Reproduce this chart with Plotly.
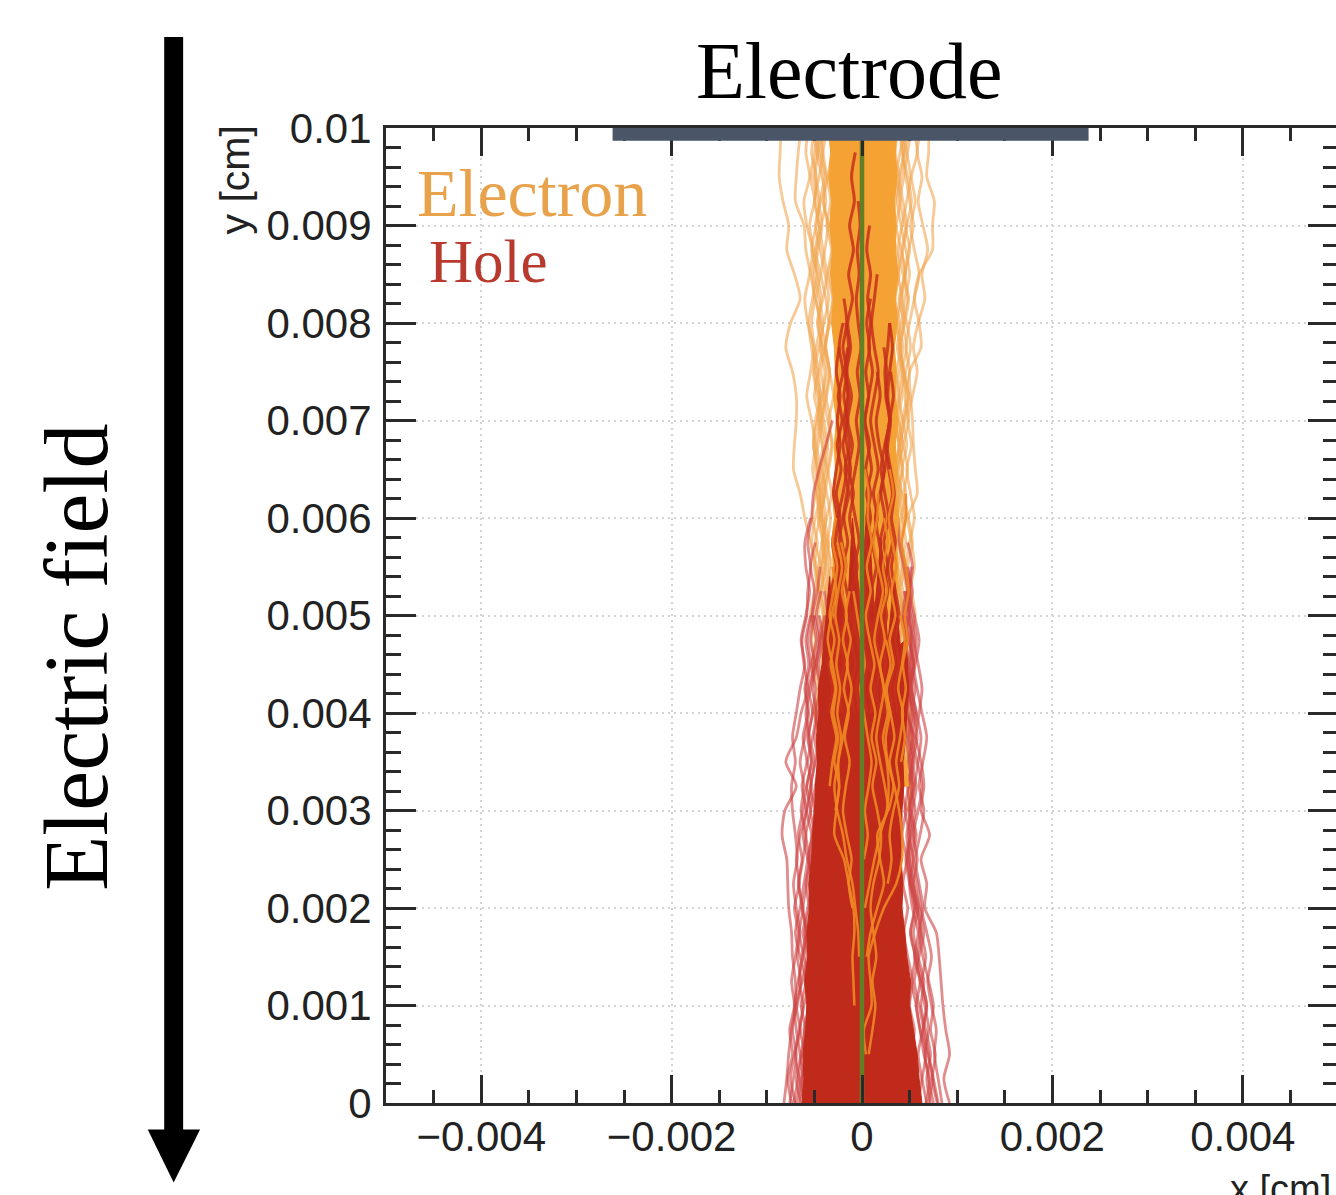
import plotly.graph_objects as go

# ---- axis text ----
x_tick_vals = [-0.004, -0.002, 0, 0.002, 0.004]
x_tick_text = ["\u22120.004", "\u22120.002", "0", "0.002", "0.004"]
y_tick_vals = [0, 0.001, 0.002, 0.003, 0.004, 0.005, 0.006, 0.007, 0.008, 0.009, 0.01]
y_tick_text = ["0", "0.001", "0.002", "0.003", "0.004", "0.005", "0.006", "0.007", "0.008", "0.009", "0.01"]

# ---- electrode extent (cm) ----
electrode_x = [-0.00262, 0.00238]
electrode_y = [0.00987, 0.01]
beam_x = [0, 0]
beam_y = [0, 0.01]

UNIT = 1e-4      # path values are in units of 1e-4 cm
STEP = 0.00025   # path sampling in y

# ---- electron paths: first value at y=0.01, going down ----
e01 = [-8.5,-8.6,-8.7,-8.3,-7.7,-7.9,-7.1,-6.5,-7.5,-8.0,-7.3,-6.9,-6.9,-7.1,-7.2,-6.5,-6.0,-5.4,-4.8,-4.5]
e02 = [-6.4,-6.7,-6.9,-7.0,-6.1,-5.9,-5.4,-5.0,-5.3,-5.0,-4.6,-4.4,-4.9,-5.1,-4.7,-4.5,-4.2,-3.9,-4.3,-4.0]
e03 = [-5.6,-5.9,-5.5,-6.1,-5.8,-5.2,-5.5,-6.0,-5.7,-5.1,-5.4,-5.8,-5.3,-4.9,-5.2,-4.8,-4.5,-4.9,-4.3,-4.6,-4.1,-4.4]
e04 = [-4.9,-5.3,-4.8,-5.0,-5.5,-5.1,-4.7,-5.2,-5.6,-5.3,-4.8,-4.4,-4.7,-5.1,-4.6,-4.2,-4.6,-4.1,-3.8,-4.3,-4.6,-4.0,-3.6]
e05 = [-4.2,-4.6,-4.9,-4.4,-4.8,-5.3,-4.7,-4.3,-4.7,-4.2,-4.6,-5.0,-4.4,-4.1,-4.5,-4.9,-5.2,-4.7,-5.0,-4.6,-5.0,-5.3,-4.9,-4.4]
e06 = [-5.2,-4.8,-5.1,-4.6,-4.2,-4.6,-5.0,-4.5,-4.1,-4.4,-3.9,-4.2,-4.6,-4.2,-3.7,-4.1,-3.8,-4.2,-4.6,-5.0,-5.4,-4.9,-5.2,-4.7,-5.0,-4.4]
e07 = [-3.9,-4.3,-3.8,-4.1,-3.6,-3.9,-4.3,-3.8,-3.5,-3.9,-3.4,-3.8,-3.3,-3.7,-4.1,-3.7,-3.3,-3.6,-3.2,-3.6,-4.0,-3.6,-4.1,-3.7,-4.2,-3.8,-3.4,-3.8]
e08 = [-4.5,-4.1,-3.7,-3.3,-3.7,-3.2,-3.6,-3.1,-3.5,-3.9,-4.3,-3.9,-4.4,-4.8,-4.3,-3.9,-4.4,-4.0,-3.6,-3.2,-3.7,-3.3,-2.9,-3.4]
e09 = [7.0,7.0,6.8,7.6,7.4,7.4,6.0,5.5,6.0,6.2,5.0,5.1,5.3,5.4,5.6,5.8,4.8,5.2,5.5,5.0,4.7]
e10 = [6.2,5.8,6.3,5.9,6.4,6.9,6.3,6.6,5.9,5.4,5.8,5.3,4.8,5.2,4.7,5.1,5.5,5.0,4.6,5.0,4.5,4.9]
e11 = [5.4,5.8,5.2,5.6,5.1,5.5,6.0,5.5,5.0,4.6,5.0,4.5,4.9,4.4,4.8,4.4,4.9,5.3,4.8,5.2,5.6,5.1,5.5,5.0]
e12 = [4.7,4.3,4.8,5.2,4.7,4.2,4.6,4.2,4.7,5.1,4.6,4.2,3.9,4.3,3.8,4.2,4.6,4.1,4.5,4.0,4.4,4.8,4.4,4.8,5.2,4.8,5.1]
e13 = [4.0,4.4,3.9,4.3,4.7,4.3,3.8,4.2,3.7,4.1,3.6,3.9,3.5,3.9,3.4,3.8,3.4,3.8,3.5,3.9,4.3,3.9,4.3,4.0,4.5,4.1,4.6,5.0,4.7]
e14 = [5.0,4.5,4.1,3.7,4.1,4.6,5.0,4.5,4.1,3.7,4.2,3.8,4.3,4.7,4.2,4.6,4.1,3.7,3.3,3.7,3.3,3.7,4.2,3.8,3.4,3.8]
e15 = [-3.6,-3.2,-3.6,-4.0,-3.5,-3.1,-3.4,-3.0,-3.4,-3.8,-3.4,-3.0,-3.5,-3.1,-3.5,-3.9,-4.3,-3.8,-4.2,-3.8,-3.4,-3.9,-4.4,-4.0,-4.5,-4.1,-4.6]
e16 = [3.8,3.5,3.9,3.5,3.2,3.6,3.9,3.5,3.9,4.3,3.9,3.5,3.8,4.2,3.8,3.3,3.7,3.2,3.6,4.0,4.5,4.1,4.6,5.1,4.7,5.2,4.8,5.2,4.9]
e17 = [-4.3,-4.7,-4.2,-3.8,-4.3,-4.8,-5.2,-4.9,-4.4,-4.8,-5.1,-4.7,-4.2,-4.6,-4.9,-4.4,-4.9,-5.3,-4.9,-4.4,-4.0,-4.5,-4.0,-4.4,-4.8,-4.3]
e18 = [-5.0,-4.5,-4.0,-4.4,-4.9,-4.4,-3.9,-3.5,-4.0,-4.5,-5.0,-4.5,-4.0,-3.6,-3.9,-4.4,-4.0,-3.5,-3.9,-4.3,-3.8,-4.3,-3.9,-3.5,-4.0,-4.5,-4.1,-4.6,-4.2]
e19 = [-3.7,-4.1,-4.5,-5.0,-4.5,-4.9,-4.4,-4.8,-4.3,-3.8,-3.4,-3.7,-4.2,-3.8,-4.3,-4.7,-4.2,-3.7,-3.4,-3.8,-3.4,-3.8,-3.5,-3.9,-3.5,-3.9]
e20 = [-4.6,-5.0,-5.4,-4.9,-4.5,-4.1,-3.7,-4.1,-4.6,-4.1,-3.7,-4.1,-3.6,-3.2,-3.6,-3.2,-3.7,-4.2,-3.9,-3.5,-3.1,-3.5,-3.9,-4.4,-4.9,-4.5]
e21 = [4.3,4.7,5.1,4.7,4.2,3.8,4.3,4.8,4.3,4.7,4.2,4.7,4.2,3.8,4.2,3.7,4.2,4.6,4.2,4.7,4.2,4.6,5.0,4.6,4.9,4.5,4.9]
e22 = [5.2,4.8,4.4,4.0,4.5,5.0,4.5,3.9,4.4,3.9,4.4,4.9,4.5,4.0,3.6,4.1,3.7,4.2,3.8,4.3,3.9,4.4,4.0,4.5,4.9,5.3,5.0,5.4]
e23 = [3.9,4.2,4.6,5.0,5.4,4.9,4.5,4.9,4.5,4.0,4.4,4.0,3.6,3.9,4.3,3.9,4.4,4.0,4.4,4.8,4.4,4.0,3.8,4.2,3.9,4.4,4.8,4.4]
e24 = [4.5,4.0,3.6,4.0,3.6,4.1,4.5,4.0,3.6,4.0,4.4,4.9,4.4,4.0,3.6,3.9,3.5,3.9,4.2,3.8,4.2,4.6,4.1,4.5,4.1,4.6]
electron_paths = [e01,e02,e03,e04,e05,e06,e07,e08,e09,e10,e11,e12,e13,e14,e15,e16,e17,e18,e19,e20,e21,e22,e23,e24]

# dense electron band: edges at y=0.01, 0.00975, ... going down
electron_core_left = [-3.5,-3.3,-3.5,-3.2,-3.4,-3.1,-3.3,-3.0,-3.2,-2.9,-2.8,-3.0,-2.7,-2.9,-2.8,-3.1,-2.9,-3.2,-3.0,-3.3,-3.1,-3.4,-3.2,-3.5,-3.4,-3.6,-3.5,-3.8]
electron_core_right = [3.7,3.5,3.7,3.4,3.6,3.5,3.8,3.5,3.7,3.4,3.6,3.5,3.8,3.5,3.7,3.6,3.9,3.6,3.8,3.7,4.0,3.8,4.1,4.0,4.4,4.2,4.6,4.9]

# orange paths lying over the red band: first value at y=0.0065, going down
os01 = [2.9,3.3,2.8,3.2,3.6,3.1,3.5,2.9,3.3,2.6,2.9,2.5,2.7,3.4,3.9,4.2,4.2,3.6,2.3,1.4,0.7,0.9,1.0,0.2,0.4]
os02 = [-2.4,-2.0,-2.2,-2.6,-2.1,-2.5,-2.8,-2.4,-2.7,-2.3,-2.6,-2.2,-2.5,-2.4,-2.7,-2.9,-1.9,-1.4,-0.9,-0.8,-1.0,-0.9,-0.8]
os03 = [1.2,1.7,1.6,1.2,1.7,2.2,1.7,1.3,1.8,2.3,1.9,1.5,1.9,2.4,2.7,1.6,1.9,2.3,1.6,0.9,0.5]
os04 = [-0.6,-1.1,-1.0,-1.4,-0.9,-1.3,-1.7,-1.2,-1.6,-1.1,-1.5,-2.0,-2.5,-2.9,-2.6,-2.0,-1.6,-1.0,-0.7,-0.4,-0.3]
os05 = [2.1,2.5,2.3,2.7,2.2,2.6,2.0,2.4,1.9,2.3,2.7,2.2,2.6,2.8,2.6,1.9,1.3,0.8,0.3]
os06 = [-3.3,-2.9,-3.0,-2.6,-3.1,-2.7,-3.2,-3.6,-3.1,-2.7,-3.0,-2.5,-2.9,-2.4,-2.8]
os07 = [0.3,0.7,0.6,1.0,0.5,0.9,0.4,0.8,1.3,0.9,1.4,1.0,1.5,1.1,1.6,2.0,1.8,1.2,0.9,1.2,1.5,1.1,1.4,1.1,0.7]
os08 = [3.5,3.9,3.8,4.3,3.9,4.4,4.0,4.5,4.2,3.8,4.3,4.0,3.6,3.9,3.3,2.9,3.1,2.7]
os09 = [-1.5,-1.9,-1.8,-2.2,-1.7,-2.1,-1.6,-2.0,-1.5,-1.9,-1.4,-1.8,-1.3,-1.7,-2.0,-1.6,-1.1,-1.4,-1.0]
os10 = [4.2,4.6,4.6,4.2,4.6,4.9,4.5,4.8,4.3,4.6,4.2,4.5,4.1]
os11 = [-0.9,-0.6,-0.4,-0.1,-0.5,-0.9,-0.5,-0.1,0.3,-0.2,0.2,0.6,1.0,0.7,0.3,0.6,0.2]
os12 = [-2.8,-3.2,-2.7,-3.1,-2.6,-3.0,-3.4,-2.9,-3.3,-2.8,-3.2,-2.7,-3.1,-3.4]
os13 = [1.8,1.4,1.9,1.5,2.0,2.5,2.0,2.5,3.0,2.5,3.0,3.4,2.9,3.3,2.8]
orange_streaks = [os01,os02,os03,os04,os05,os06,os07,os08,os09,os10,os11,os12,os13]
# how many leading levels each of those paths leaves out, so they do not all begin at one height
orange_skip = [0,3,1,5,2,4,0,6,3,1,5,2,7]

# ---- hole paths: first value at y=0, going up ----
h01 = [-8.2,-7.9,-7.7,-7.4,-7.0,-7.0,-7.3,-7.4,-7.7,-7.8,-7.9,-8.4,-8.1,-6.9,-8.0,-6.9,-6.4,-5.7,-6.1,-6.3,-5.8,-5.7,-5.4,-5.7,-5.3,-5.1,-4.5,-3.8,-3.1]
h02 = [9.2,8.6,9.2,8.8,8.5,8.3,8.1,7.8,6.6,6.8,6.2,7.1,6.2,6.5,6.2,5.6,4.7,5.0,5.1,5.2,5.0,4.8,4.4,3.9,3.8]
h03 = [-7.6,-7.2,-6.9,-7.3,-6.8,-6.4,-6.8,-6.5,-6.9,-7.2,-6.8,-7.0,-7.3,-7.4,-7.0,-7.3,-6.9,-6.5,-6.0,-6.4,-5.9,-5.5,-5.9,-6.0,-5.4]
h04 = [-7.0,-7.5,-7.1,-6.6,-6.2,-6.6,-6.2,-5.8,-6.3,-6.6,-6.2,-5.9,-6.4,-6.1,-6.5,-6.0,-5.6,-5.9,-5.4,-5.7,-5.3,-5.0,-5.4,-4.9]
h05 = [-6.6,-6.2,-6.5,-6.9,-7.1,-6.7,-6.3,-5.9,-6.2,-5.8,-5.5,-5.9,-5.4,-5.8,-5.3,-5.6,-5.2,-4.9,-5.3,-4.8,-5.2,-4.7,-4.4]
h06 = [-7.4,-7.8,-7.3,-7.6,-7.1,-7.4,-7.0,-6.7,-7.1,-6.6,-6.9,-6.5,-5.9,-6.3,-5.8,-6.2,-5.7,-6.0,-5.6,-5.9,-5.4]
h07 = [-5.9,-6.3,-5.7,-6.1,-5.6,-5.9,-5.5,-5.1,-5.5,-5.9,-5.4,-5.0,-5.4,-4.9,-4.6,-5.0,-4.6,-4.2,-4.6,-4.1,-4.5]
h08 = [7.9,7.4,7.7,7.2,7.5,7.0,6.4,6.0,6.4,6.0,5.6,6.1,6.5,6.0,6.4,6.8,6.3,5.8,5.4,5.7,5.3,4.9,5.2]
h09 = [7.2,6.8,7.2,6.7,6.2,6.5,5.9,5.4,5.9,5.4,5.8,5.4,5.9,6.3,5.8,5.3,5.7,5.2,5.6,6.0,5.5,5.0,5.3,4.8]
h10 = [6.7,7.1,6.5,6.1,5.7,6.1,5.5,5.9,5.3,5.0,5.4,4.9,5.3,5.7,5.2,5.6,6.0,6.3,5.9,5.4,4.9,5.3,4.8]
h11 = [8.4,8.0,7.6,7.8,7.3,6.9,7.3,6.8,6.2,5.8,5.3,5.7,5.2,5.5,5.9,6.2,5.7,5.2,4.8,5.2,4.7]
h12 = [5.9,6.3,6.7,6.1,5.7,5.2,5.6,5.1,5.5,5.0,4.6,5.0,4.5,4.9,5.3,4.9,5.3,4.8,4.4,4.7,4.3,4.6]
h13 = [-5.3,-5.7,-5.2,-5.5,-5.1,-5.4,-4.9,-4.5,-4.9,-4.4,-4.8,-4.3,-4.7,-4.2,-4.6,-4.1,-4.5,-4.0,-3.7,-4.1,-3.6,-4.0]
h14 = [5.3,5.7,5.2,5.5,5.0,5.3,4.8,4.4,4.8,4.3,4.7,4.2,4.6,4.1,4.5,4.0,4.5,4.9,4.4,4.8,4.3]
h15 = [-6.9,-6.4,-6.0,-6.5,-6.1,-5.6,-6.1,-6.6,-6.2,-6.7,-6.3,-6.7,-6.2,-5.8,-5.3,-5.7,-5.2,-5.6,-5.0,-5.4,-5.0]
h16 = [-6.1,-6.6,-7.0,-6.5,-6.9,-6.3,-5.8,-6.2,-5.7,-5.2,-5.7,-6.2,-5.8,-5.3,-5.7,-5.2,-4.8,-5.2,-4.8,-4.4,-4.8,-4.3]
h17 = [-7.2,-6.7,-6.3,-5.9,-6.4,-5.9,-6.5,-7.0,-6.5,-6.1,-5.7,-5.3,-5.8,-5.4,-5.0,-5.5,-5.9,-5.4,-5.0,-4.6,-5.0]
h18 = [-6.4,-6.9,-6.4,-6.0,-5.5,-6.0,-5.6,-6.0,-5.5,-5.1,-5.6,-5.2,-5.0,-5.4,-4.9,-4.5,-4.9,-4.4,-4.8,-4.4,-3.9]
h19 = [7.5,7.0,6.6,7.0,6.6,6.1,5.6,5.1,5.6,5.1,4.8,5.2,4.9,5.3,4.9,5.3,4.8,5.3,4.9,4.5,4.9,4.4]
h20 = [6.8,6.3,5.9,6.4,6.8,6.3,5.8,6.2,5.8,5.3,5.0,4.7,5.1,4.8,5.3,5.8,5.4,4.9,5.4,5.0,4.6,5.0,4.6]
h21 = [8.0,7.5,7.0,6.5,6.0,5.5,6.0,6.5,6.0,5.5,5.0,5.5,5.0,5.4,5.0,4.7,5.1,5.6,5.1,5.5,5.1,4.6]
h22 = [7.0,7.4,6.9,6.4,6.8,6.3,6.7,6.2,5.7,5.2,4.8,5.1,5.6,5.1,5.5,5.0,5.5,5.0,5.4,4.9,4.5,4.9]
hole_paths = [h01,h02,h03,h04,h05,h06,h07,h08,h09,h10,h11,h12,h13,h14,h15,h16,h17,h18,h19,h20,h21,h22]

# dense hole band: edges at y=0, 0.00025, ... going up
hole_core_left = [-6.3,-6.1,-6.2,-5.9,-5.8,-6.0,-5.7,-5.8,-5.5,-5.6,-5.3,-5.2,-5.0,-4.9,-4.7,-4.8,-4.5,-4.6,-4.2,-4.0]
hole_core_right = [6.3,6.0,5.8,5.4,5.0,5.1,4.7,4.5,4.2,4.3,4.1,4.2,4.2,4.4,4.3,4.6,4.7,4.9,4.8,4.6]
# uneven upper end of the dense hole band, left to right (x units, y in cm)
hole_top_x = [-3.4,-2.9,-2.4,-1.6,-1.0,-0.2,0.6,1.3,2.0,2.7,3.4,4.0]
hole_top_y = [0.0054,0.0047,0.0056,0.0049,0.0060,0.0051,0.0062,0.0050,0.0058,0.0047,0.0054,0.0047]

# red paths in the mixed zone: first value at y=0.004, going up
rs01 = [-0.8,-1.2,-0.7,-1.1,-0.6,-1.0,-0.5,-0.9,-1.3,-0.9,-1.4,-1.0,-1.5,-1.1,-1.6,-1.2,-1.5,-1.0,-1.4,-0.9,-1.3,-0.8,-1.1,-0.7]
rs02 = [-2.0,-2.4,-1.9,-2.3,-1.8,-2.2,-1.7,-2.1,-2.5,-2.0,-1.6,-2.0,-1.5,-1.9,-1.6,-2.0,-1.6,-1.9]
rs03 = [-3.0,-2.6,-3.1,-2.7,-3.2,-2.8,-2.4,-2.8,-2.3,-2.7,-2.2,-2.6,-2.1,-2.5,-2.0,-2.4,-2.0]
rs04 = [1.2,0.8,1.3,0.9,1.4,1.0,1.5,1.1,1.6,1.2,1.7,1.3,0.9,1.3,1.7,1.3,1.0,1.3,1.6]
rs05 = [2.4,2.0,2.5,2.1,2.6,2.2,2.7,2.3,2.8,2.4,2.0,2.4,2.9,2.5,2.6,2.3]
rs06 = [3.3,2.9,3.4,3.0,3.5,3.1,2.7,3.2,2.8,3.2,2.8,2.5,2.9,2.6,2.4,2.7,2.9]
rs07 = [-0.2,-0.6,-0.1,-0.5,-0.9,-0.4,-0.8,-0.3,-0.7,-1.1,-0.7,-0.3,-0.6,-0.2,-0.5,-0.1,-0.4,-0.6,-0.3,-0.5,-0.2,-0.4]
rs08 = [0.5,0.1,0.6,0.2,0.7,0.3,0.8,0.4,0.9,0.5,1.0,0.6,0.3,0.7,0.4,0.8,0.5,0.9]
rs09 = [-1.4,-1.8,-1.3,-1.7,-1.2,-1.6,-2.0,-1.5,-1.9,-1.4,-1.8,-1.3,-1.7,-1.4,-1.8,-1.5]
rs10 = [1.9,1.5,2.0,1.6,2.1,1.7,2.2,1.8,1.4,1.9,2.3,1.8,1.5,1.9,1.6]
rs11 = [3.8,3.4,3.9,3.5,3.9,3.5,3.1,3.5,3.1,3.4,3.0,2.6,2.9,3.3,3.0]
rs12 = [-3.5,-3.1,-3.6,-3.2,-2.8,-3.2,-2.7,-3.1,-2.6,-3.0,-2.7,-2.3,-2.6,-2.3,-2.7,-2.4]
rs13 = [-2.5,-2.1,-2.6,-2.2,-1.8,-2.3,-1.9,-2.4,-2.0,-1.6,-1.2,-1.6,-1.9,-1.5,-1.7,-1.4,-1.7]
rs14 = [2.9,2.5,3.0,2.6,2.2,2.7,2.3,1.9,2.4,2.0,2.4,2.7,3.0,2.7,2.9,3.2,2.9]
rs15 = [0.9,1.3,0.8,1.2,0.7,1.1,0.6,1.0,0.5,0.9,0.4,0.8,0.3,0.7,1.1,0.7,0.9,0.6,0.9,0.5,0.8]
red_streaks = [rs01,rs02,rs03,rs04,rs05,rs06,rs07,rs08,rs09,rs10,rs11,rs12,rs13,rs14,rs15]

ELECTRON_PALE = "rgba(240,165,80,0.6)"
HOLE_PALE = "rgba(205,65,65,0.6)"
ELECTRON_SOLID = "#F4A233"
HOLE_SOLID = "#BF2A1A"

L, T, W, H = 386, 128, 955, 975.5   # plot area in page pixels


def px(X):
    return (X - L) / W


def py(Y):
    return (T + H - Y) / H


fig = go.Figure()


def add_path(xs, ys, color, width):
    fig.add_trace(go.Scatter(x=[v * UNIT for v in xs], y=ys, mode="lines",
                             line=dict(color=color, width=width, shape="spline", smoothing=0.7),
                             showlegend=False, hoverinfo="skip"))


for path in electron_paths:
    add_path(path, [0.01 - STEP * i for i in range(len(path))], ELECTRON_PALE, 2.8)
for path in hole_paths:
    add_path(path, [STEP * i for i in range(len(path))], HOLE_PALE, 2.8)

# electron band
ec_y = [0.01 - STEP * i for i in range(len(electron_core_left))]
fig.add_trace(go.Scatter(
    x=[v * UNIT for v in electron_core_left + electron_core_right[::-1]],
    y=ec_y + ec_y[::-1], mode="lines", fill="toself", fillcolor=ELECTRON_SOLID,
    line=dict(color=ELECTRON_SOLID, width=1), showlegend=False, hoverinfo="skip"))

# hole band
hc_y = [STEP * i for i in range(len(hole_core_left))]
fig.add_trace(go.Scatter(
    x=[v * UNIT for v in hole_core_left + hole_top_x + hole_core_right[::-1]],
    y=hc_y + hole_top_y + hc_y[::-1], mode="lines", fill="toself", fillcolor=HOLE_SOLID,
    line=dict(color=HOLE_SOLID, width=1), showlegend=False, hoverinfo="skip"))

for path in red_streaks:
    add_path(path, [0.004 + STEP * i for i in range(len(path))], "rgba(198,48,28,0.85)", 3)
for path, skip in zip(orange_streaks, orange_skip):
    add_path(path[skip:], [0.0065 - STEP * i for i in range(skip, len(path))], "rgba(240,135,35,0.9)", 2.5)

fig.add_trace(go.Scatter(x=beam_x, y=beam_y, mode="lines",
                         line=dict(color="#637F26", width=4.5),
                         showlegend=False, hoverinfo="skip"))

AXIS_COLOR = "#2a2a2a"
TICK_FONT = dict(family="Liberation Sans, Arial, sans-serif", size=42, color="#222222")
fig.update_xaxes(
    range=[-0.005, 0.005], tickvals=x_tick_vals, ticktext=x_tick_text, tickfont=TICK_FONT,
    ticks="inside", ticklen=28, tickwidth=3, tickcolor=AXIS_COLOR,
    showline=True, linewidth=3, linecolor=AXIS_COLOR, mirror="ticks",
    showgrid=True, gridcolor="#D4D4D4", griddash="2px,4px", gridwidth=2, zeroline=False,
    ticklabelstandoff=-5,
    minor=dict(dtick=0.0005, tick0=0, ticks="inside", ticklen=13, tickwidth=3,
               tickcolor=AXIS_COLOR, showgrid=False),
)
fig.update_yaxes(
    range=[0, 0.01], tickvals=y_tick_vals, ticktext=y_tick_text, tickfont=TICK_FONT,
    ticks="inside", ticklen=30, tickwidth=3, tickcolor=AXIS_COLOR,
    showline=True, linewidth=3, linecolor=AXIS_COLOR, mirror="ticks",
    showgrid=True, gridcolor="#D4D4D4", griddash="2px,4px", gridwidth=2, zeroline=False,
    ticklabelstandoff=3,
    minor=dict(dtick=0.0002, tick0=0, ticks="inside", ticklen=15, tickwidth=3,
               tickcolor=AXIS_COLOR, showgrid=False),
)

shapes = [
    dict(type="rect", xref="x", yref="y", x0=electrode_x[0], x1=electrode_x[1],
         y0=electrode_y[0], y1=electrode_y[1], fillcolor="#4A5568", line_width=0, layer="above"),
    dict(type="rect", xref="paper", yref="paper", x0=px(163.5), x1=px(182.5), y0=py(1132), y1=py(37),
         fillcolor="black", line_width=0),
    dict(type="path", xref="paper", yref="paper",
         path=f"M {px(147)},{py(1130)} L {px(199.5)},{py(1130)} L {px(173)},{py(1183)} Z",
         fillcolor="black", line_width=0),
]

SERIF = "Liberation Serif, Times New Roman, serif"
SANS = "Liberation Sans, Arial, sans-serif"


def label(text, X, Y, size, color="black", family=SERIF, angle=0, xanchor="center", yanchor="middle"):
    return dict(text=text, xref="paper", yref="paper", x=px(X), y=py(Y), showarrow=False,
                font=dict(family=family, size=size, color=color), textangle=angle,
                xanchor=xanchor, yanchor=yanchor)


annotations = [
    label("Electrode", 850, 71, 80),
    label("Electric field", 76, 657, 90, angle=-90),
    label("Electron", 415, 193, 68, color="#E8A24B", xanchor="left"),
    label("Hole", 427, 262, 61, color="#B8392E", xanchor="left"),
    label("y [cm]", 234, 180, 41, color="#222222", family=SANS, angle=-90),
    label("x [cm]", 1231, 1190, 38, color="#222222", family=SANS, xanchor="left"),
]

fig.update_layout(
    width=1341, height=1195, autosize=False,
    margin=dict(l=L, r=0, t=T, b=1195 - T - H, pad=0),
    paper_bgcolor="white", plot_bgcolor="white",
    shapes=shapes, annotations=annotations, showlegend=False,
)

fig.write_html("out.html", config=dict(displayModeBar=False),
               post_script="document.body.style.margin='0';document.documentElement.style.overflow='hidden';document.body.style.overflow='hidden';")
